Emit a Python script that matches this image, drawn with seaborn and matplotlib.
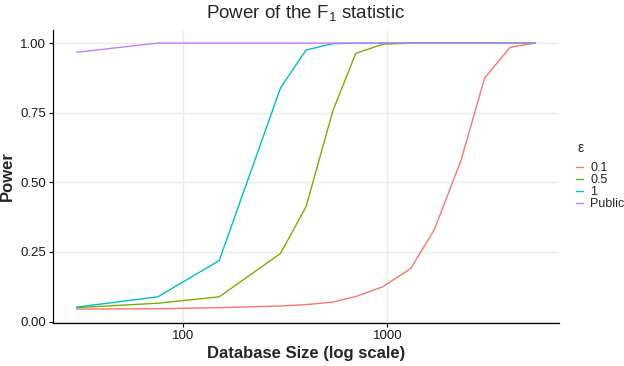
import numpy as np
import pandas as pd
import matplotlib
matplotlib.use("Agg")
import matplotlib.pyplot as plt
import seaborn as sns

# database sizes (log-spaced grid)
sizes = [30, 75, 150, 300, 400, 540, 700, 950, 1300, 1700, 2300, 3000, 4000, 5300]

power_eps_01 = [0.045, 0.046, 0.050, 0.056, 0.061, 0.070, 0.090, 0.125, 0.190, 0.330, 0.580, 0.875, 0.985, 1.000]
power_eps_05 = [0.050, 0.066, 0.089, 0.245, 0.413, 0.755, 0.963, 0.996, 1.000, 1.000, 1.000, 1.000, 1.000, 1.000]
power_eps_1 = [0.052, 0.089, 0.219, 0.840, 0.975, 0.998, 1.000, 1.000, 1.000, 1.000, 1.000, 1.000, 1.000, 1.000]
power_public = [0.967, 1.000, 1.000, 1.000, 1.000, 1.000, 1.000, 1.000, 1.000, 1.000, 1.000, 1.000, 1.000, 1.000]

eps_labels = ["0.1", "0.5", "1", "Public"]
palette = ["#F8766D", "#7CAE00", "#00BFC4", "#C77CFF"]

frames = []
for lab, vals in zip(eps_labels, [power_eps_01, power_eps_05, power_eps_1, power_public]):
    frames.append(pd.DataFrame({"size": sizes, "power": vals, "eps": lab}))
df = pd.concat(frames, ignore_index=True)

sns.set_style("white")
plt.rcParams["font.family"] = ["Liberation Sans", "DejaVu Sans"]
plt.rcParams["mathtext.fontset"] = "custom"
plt.rcParams["mathtext.rm"] = "Liberation Sans"

fig = plt.figure(figsize=(6.24, 3.66), dpi=100)
ax = fig.add_axes([0.085, 0.1175, 0.811, 0.8005])

sns.lineplot(data=df, x="size", y="power", hue="eps", hue_order=eps_labels,
             palette=palette, linewidth=1.0, ax=ax)

ax.set_xscale("log")
ax.set_xlim(23, 6950)
ax.set_ylim(-0.005, 1.047)
ax.set_xticks([100, 1000])
ax.set_xticklabels(["100", "1000"])
ax.xaxis.set_minor_locator(matplotlib.ticker.NullLocator())
ax.set_yticks([0, 0.25, 0.5, 0.75, 1.0])
ax.set_yticklabels(["0.00", "0.25", "0.50", "0.75", "1.00"])

ax.grid(True, color="#EBEBEB", linewidth=1.0)
ax.set_axisbelow(True)
for s in ["top", "right"]:
    ax.spines[s].set_visible(False)
for s in ["left", "bottom"]:
    ax.spines[s].set_color("black")
    ax.spines[s].set_linewidth(0.9)
ax.tick_params(axis="both", which="major", length=3, width=0.8, color="black",
               labelsize=9.5, labelcolor="#1a1a1a", pad=2, left=True, bottom=True)

ax.set_xlabel("Database Size (log scale)", fontsize=12, fontweight="bold", labelpad=3)
ax.set_ylabel("Power", fontsize=12, fontweight="bold", labelpad=4)
ax.set_title("Power of the F$_1$ statistic", fontsize=13.5, pad=8)

leg = ax.legend(loc="center left", bbox_to_anchor=(1.033, 0.468),
                frameon=False, fontsize=9, borderaxespad=0, borderpad=0,
                handlelength=0.55, handletextpad=0.6, labelspacing=0.0)
ax.text(1.036, 0.597, "ε", transform=ax.transAxes, fontsize=10,
        ha="left", va="center")

fig.savefig("out.png", dpi=100)
